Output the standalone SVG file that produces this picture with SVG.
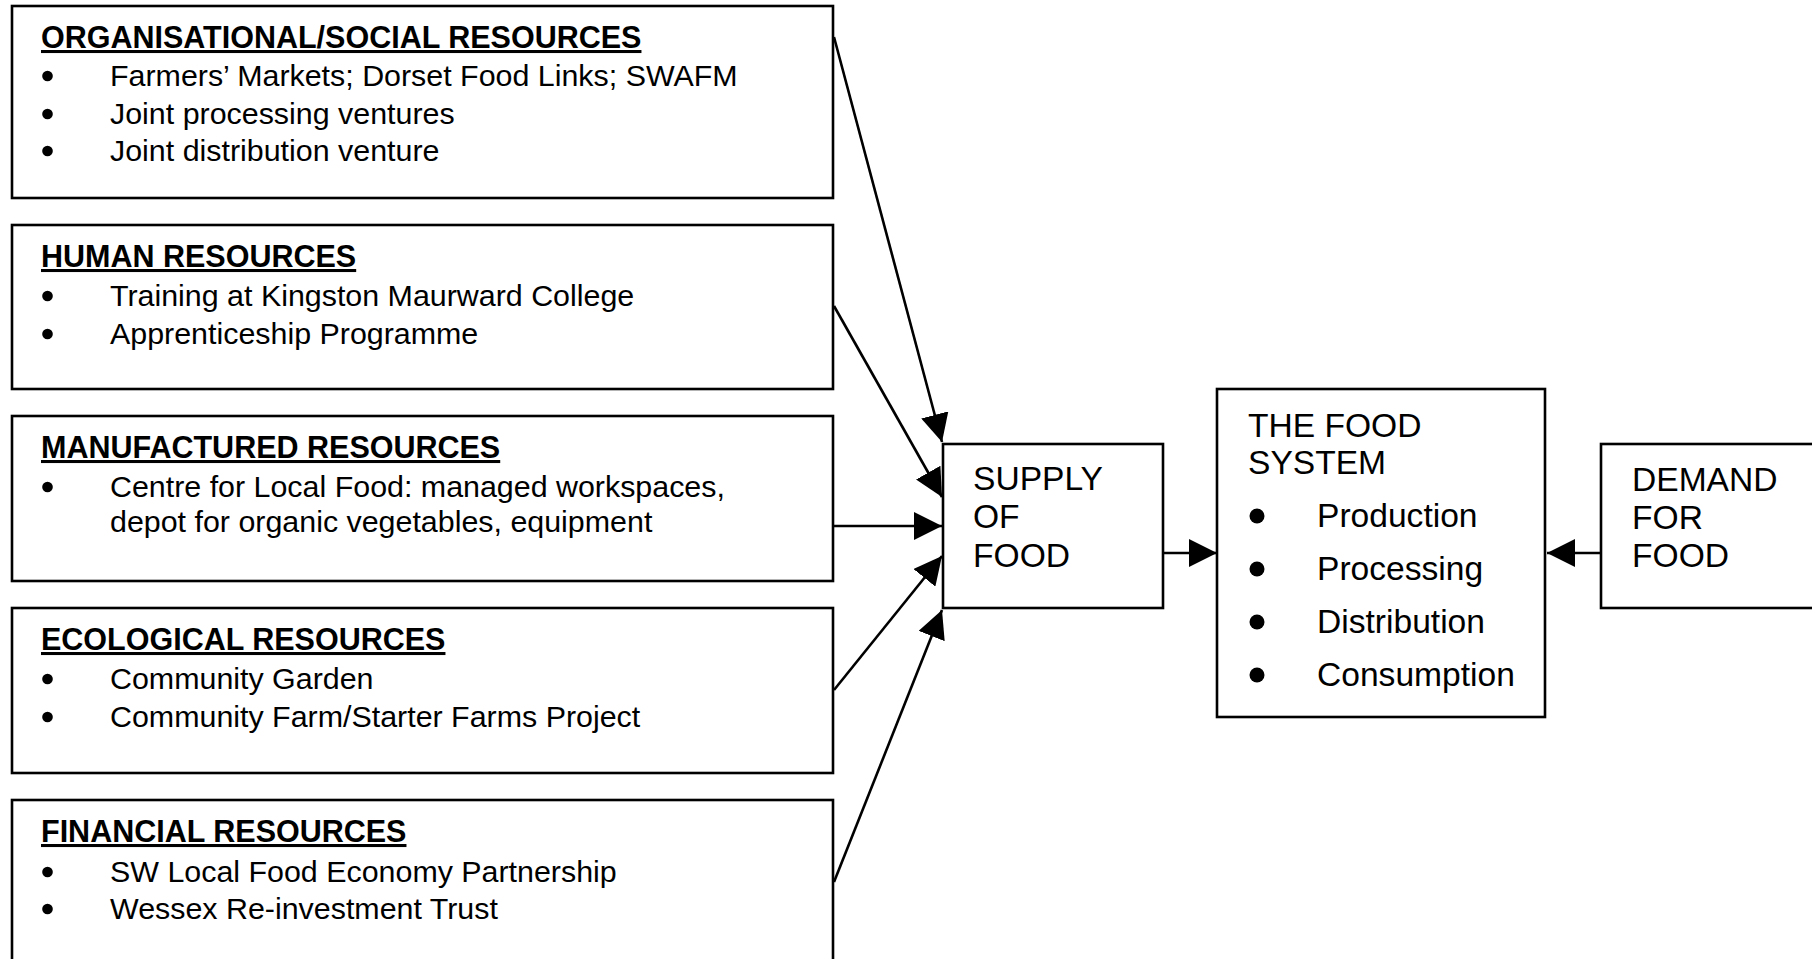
<svg xmlns="http://www.w3.org/2000/svg" width="1812" height="959" viewBox="0 0 1812 959">
<style>
.box{fill:#fff;stroke:#000;stroke-width:2.6}
.t{font-family:"Liberation Sans",Arial,sans-serif;font-size:30.4px;fill:#000}
.h{font-weight:bold;text-decoration:underline;font-size:30.5px}
.b{font-family:"Liberation Sans",Arial,sans-serif;font-size:33.6px;fill:#000}
.conn{stroke:#000;stroke-width:2.6;fill:none;marker-end:url(#arr)}
</style>
<defs>
<marker id="arr" markerUnits="userSpaceOnUse" markerWidth="28" markerHeight="28" refX="28" refY="14" orient="auto" viewBox="0 0 28 28">
<path d="M0,0 L28,14 L0,28 z" fill="#000"/>
</marker>
</defs>
<rect width="1812" height="959" fill="#fff"/>

<g id="organisational">
<rect class="box" x="12" y="6" width="821" height="192"/>
<text class="t h" x="41" y="48">ORGANISATIONAL/SOCIAL RESOURCES</text>
<circle cx="47.5" cy="76" r="5.3"/><text class="t" x="110" y="86">Farmers’ Markets; Dorset Food Links; SWAFM</text>
<circle cx="47.5" cy="114" r="5.3"/><text class="t" x="110" y="124">Joint processing ventures</text>
<circle cx="47.5" cy="151" r="5.3"/><text class="t" x="110" y="161">Joint distribution venture</text>
</g>

<g id="human">
<rect class="box" x="12" y="225" width="821" height="164"/>
<text class="t h" x="41" y="267">HUMAN RESOURCES</text>
<circle cx="47.5" cy="296" r="5.3"/><text class="t" x="110" y="306">Training at Kingston Maurward College</text>
<circle cx="47.5" cy="334" r="5.3"/><text class="t" x="110" y="344">Apprenticeship Programme</text>
</g>

<g id="manufactured">
<rect class="box" x="12" y="416" width="821" height="165"/>
<text class="t h" x="41" y="458">MANUFACTURED RESOURCES</text>
<circle cx="47.5" cy="487" r="5.3"/><text class="t" x="110" y="497">Centre for Local Food: managed workspaces,</text>
<text class="t" x="110" y="532">depot for organic vegetables, equipment</text>
</g>

<g id="ecological">
<rect class="box" x="12" y="608" width="821" height="165"/>
<text class="t h" x="41" y="650">ECOLOGICAL RESOURCES</text>
<circle cx="47.5" cy="679" r="5.3"/><text class="t" x="110" y="689">Community Garden</text>
<circle cx="47.5" cy="717" r="5.3"/><text class="t" x="110" y="727">Community Farm/Starter Farms Project</text>
</g>

<g id="financial">
<rect class="box" x="12" y="800" width="821" height="170"/>
<text class="t h" x="41" y="842">FINANCIAL RESOURCES</text>
<circle cx="47.5" cy="872" r="5.3"/><text class="t" x="110" y="882">SW Local Food Economy Partnership</text>
<circle cx="47.5" cy="909" r="5.3"/><text class="t" x="110" y="919">Wessex Re-investment Trust</text>
</g>

<g id="supply">
<rect class="box" x="943" y="444" width="220" height="164"/>
<text class="b" x="973" y="490">SUPPLY</text>
<text class="b" x="973" y="528">OF</text>
<text class="b" x="973" y="567">FOOD</text>
</g>

<g id="foodsystem">
<rect class="box" x="1217" y="389" width="328" height="328"/>
<text class="b" x="1248" y="437">THE FOOD</text>
<text class="b" x="1248" y="474">SYSTEM</text>
<circle cx="1257" cy="516" r="7.5"/><text class="b" x="1317" y="527">Production</text>
<circle cx="1257" cy="569" r="7.5"/><text class="b" x="1317" y="580">Processing</text>
<circle cx="1257" cy="622" r="7.5"/><text class="b" x="1317" y="633">Distribution</text>
<circle cx="1257" cy="675" r="7.5"/><text class="b" x="1317" y="686">Consumption</text>
</g>

<g id="demand">
<rect class="box" x="1601" y="444" width="230" height="164"/>
<text class="b" x="1632" y="491">DEMAND</text>
<text class="b" x="1632" y="529">FOR</text>
<text class="b" x="1632" y="567">FOOD</text>
</g>

<g id="connectors">
<line class="conn" x1="834" y1="37" x2="942" y2="442"/>
<line class="conn" x1="834" y1="306" x2="942" y2="497"/>
<line class="conn" x1="834" y1="526" x2="942" y2="526"/>
<line class="conn" x1="834" y1="690" x2="942" y2="556"/>
<line class="conn" x1="834" y1="882" x2="942" y2="610"/>
<line class="conn" x1="1163" y1="553" x2="1217" y2="553"/>
<line class="conn" x1="1601" y1="553" x2="1547" y2="553"/>
</g>
</svg>
